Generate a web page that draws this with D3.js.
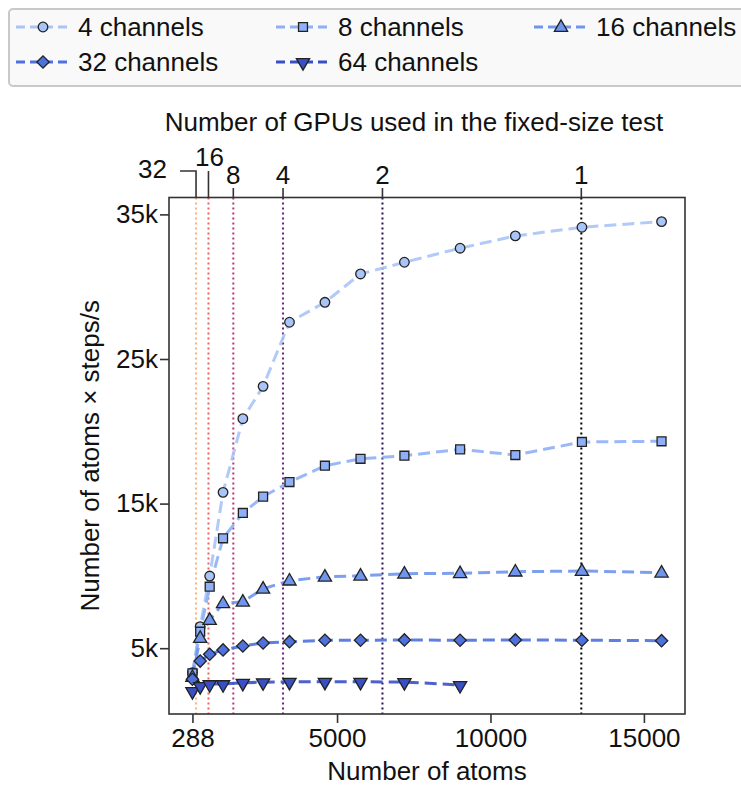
<!DOCTYPE html>
<html><head><meta charset="utf-8">
<script src="https://cdn.jsdelivr.net/npm/d3@7"></script>
<style>
html,body{margin:0;padding:0;background:#fff;}
svg text{font-family:"Liberation Sans",Arial,Helvetica,sans-serif;fill:#111;}
</style></head>
<body>
<svg id="chart" width="741" height="785"></svg>
<script>
// ---- data ----
const atoms = [288, 540, 850, 1285, 1930, 2590, 3450, 4605, 5765, 7195, 9010, 10810, 12980, 15575];
const ch4  = [3300, 6490, 9990, 15780, 20870, 23110, 27540, 28920, 30880, 31690, 32660, 33510, 34110, 34500];
const ch8  = [3260, 6140, 9250, 12600, 14350, 15480, 16490, 17620, 18100, 18310, 18750, 18360, 19260, 19310];
const ch16 = [3000, 5700, 6950, 8100, 8210, 9110, 9670, 9940, 10010, 10150, 10180, 10290, 10340, 10220];
const ch32 = [2850, 4110, 4580, 4880, 5150, 5360, 5450, 5550, 5550, 5570, 5550, 5570, 5550, 5520];
const ch64 = [2040, 2390, 2520, 2520, 2610, 2650, 2680, 2680, 2680, 2660, 2460];
const seriesNames = ["4 channels", "8 channels", "16 channels", "32 channels", "64 channels"];
const gpuCounts = [32, 16, 8, 4, 2, 1];
const fixedSizeAtoms = 12960;
const xTicks = [288, 5000, 10000, 15000];
const yTicks = [5000, 15000, 25000, 35000];
const yTickLabels = ["5k", "15k", "25k", "35k"];

// ---- style ----
const colors = ["#a9c4f6", "#8fb0f6", "#6f95ed", "#4e71dc", "#3850c4"];
const shapes = ["circle", "square", "triangle", "diamond", "tridown"];
const seriesValues = [ch4, ch8, ch16, ch32, ch64];
const FS = 26;

const svg = d3.select("#chart");
const L = 169, R = 685, T = 197.5, B = 714;
const x = d3.scaleLinear().domain([-476, 16339]).range([L, R]);
const y = d3.scaleLinear().domain([449, 36168]).range([B, T]);

function symPath(shape) {
  if (shape === "circle") return d3.symbol(d3.symbolCircle, 72)();
  if (shape === "square") return d3.symbol(d3.symbolSquare, 80)();
  if (shape === "triangle" || shape === "tridown") return d3.symbol(d3.symbolTriangle, 76)();
  if (shape === "diamond") return d3.symbol(d3.symbolSquare, 76)();
}
function symTransform(shape, px, py) {
  if (shape === "diamond") return `translate(${px},${py}) rotate(45)`;
  if (shape === "tridown") return `translate(${px},${py + 0.5}) rotate(180)`;
  if (shape === "triangle") return `translate(${px},${py + 0.5})`;
  return `translate(${px},${py})`;
}
function drawMarker(g, shape, color, px, py) {
  g.append("path").attr("d", symPath(shape)).attr("transform", symTransform(shape, px, py))
    .attr("fill", color).attr("stroke", "#222").attr("stroke-width", 1.3);
}

// ---- legend ----
svg.append("rect").attr("x", 9).attr("y", 9).attr("width", 760).attr("height", 77)
  .attr("rx", 4).attr("fill", "#f9f9f9").attr("stroke", "#c9c9c9").attr("stroke-width", 2);
const legPos = [[16, 27], [276, 27], [534, 27], [16, 62], [276, 62]];
seriesNames.forEach((name, i) => {
  const [lx, ly] = legPos[i];
  const g = svg.append("g");
  g.append("line").attr("x1", lx).attr("x2", lx + 54).attr("y1", ly).attr("y2", ly)
    .attr("stroke", colors[i]).attr("stroke-width", 3).attr("stroke-dasharray", "9,5");
  drawMarker(g, shapes[i], colors[i], lx + 27, ly);
  g.append("text").attr("x", lx + 62).attr("y", ly).attr("dy", "0.35em")
    .attr("font-size", FS).text(name);
});

// ---- title ----
svg.append("text").attr("x", 414).attr("y", 131).attr("text-anchor", "middle")
  .attr("font-size", FS).text("Number of GPUs used in the fixed-size test");

// ---- GPU vertical dotted lines ----
const gpuColor = (i) => d3.interpolateMagma((gpuCounts.length - 1 - i) / 6);
gpuCounts.forEach((g, i) => {
  const gx = x(fixedSizeAtoms / g);
  svg.append("line").attr("x1", gx).attr("x2", gx).attr("y1", T).attr("y2", B)
    .attr("stroke", gpuColor(i)).attr("stroke-width", 2).attr("stroke-dasharray", "2,3");
});

// ---- series ----
seriesValues.forEach((vals, si) => {
  const pts = vals.map((v, j) => [x(atoms[j]), y(v)]);
  svg.append("path").attr("d", d3.line()(pts)).attr("fill", "none")
    .attr("stroke", colors[si]).attr("stroke-width", 3).attr("stroke-dasharray", "12,6")
    .attr("opacity", 0.9);
});
seriesValues.forEach((vals, si) => {
  const g = svg.append("g");
  vals.forEach((v, j) => drawMarker(g, shapes[si], colors[si], x(atoms[j]), y(v)));
});

// ---- frame ----
svg.append("rect").attr("x", L).attr("y", T).attr("width", R - L).attr("height", B - T)
  .attr("fill", "none").attr("stroke", "#333").attr("stroke-width", 1.6);

// ---- bottom axis ----
const xAxis = d3.axisBottom(x).tickValues(xTicks).tickFormat(d3.format("d")).tickSize(9).tickPadding(6);
const gx = svg.append("g").attr("transform", `translate(0,${B})`).call(xAxis);
gx.select(".domain").remove();
gx.selectAll("line").attr("stroke", "#333").attr("stroke-width", 1.6);
gx.selectAll("text").attr("font-size", FS).attr("fill", "#111")
  .attr("font-family", '"Liberation Sans",Arial,sans-serif');

// ---- left axis ----
const yAxis = d3.axisLeft(y).tickValues(yTicks).tickFormat((d, i) => yTickLabels[i]).tickSize(9).tickPadding(2);
const gy = svg.append("g").attr("transform", `translate(${L},0)`).call(yAxis);
gy.select(".domain").remove();
gy.selectAll("line").attr("stroke", "#333").attr("stroke-width", 1.6);
gy.selectAll("text").attr("font-size", FS).attr("fill", "#111")
  .attr("font-family", '"Liberation Sans",Arial,sans-serif');

// ---- top axis (GPU counts) ----
gpuCounts.forEach((g, i) => {
  const gxp = x(fixedSizeAtoms / g);
  if (g === 32) {
    svg.append("path").attr("d", `M${gxp - 16},${171} H${gxp} V${T}`)
      .attr("fill", "none").attr("stroke", "#333").attr("stroke-width", 1.6);
    svg.append("text").attr("x", gxp - 29).attr("y", 169).attr("dy", "0.35em")
      .attr("text-anchor", "end").attr("font-size", FS).text(g);
  } else if (g === 16) {
    svg.append("line").attr("x1", gxp).attr("x2", gxp).attr("y1", 171).attr("y2", T)
      .attr("stroke", "#333").attr("stroke-width", 1.6);
    svg.append("text").attr("x", gxp + 1).attr("y", 166).attr("text-anchor", "middle")
      .attr("font-size", FS).text(g);
  } else {
    svg.append("line").attr("x1", gxp).attr("x2", gxp).attr("y1", 188).attr("y2", T)
      .attr("stroke", "#333").attr("stroke-width", 1.6);
    svg.append("text").attr("x", gxp).attr("y", 184).attr("text-anchor", "middle")
      .attr("font-size", FS).text(g);
  }
});

// ---- axis titles ----
svg.append("text").attr("x", (L + R) / 2).attr("y", 780).attr("text-anchor", "middle")
  .attr("font-size", FS).text("Number of atoms");
svg.append("text").attr("transform", `translate(99,${(T + B) / 2}) rotate(-90)`)
  .attr("text-anchor", "middle").attr("font-size", FS).text("Number of atoms × steps/s");
</script>
</body></html>
